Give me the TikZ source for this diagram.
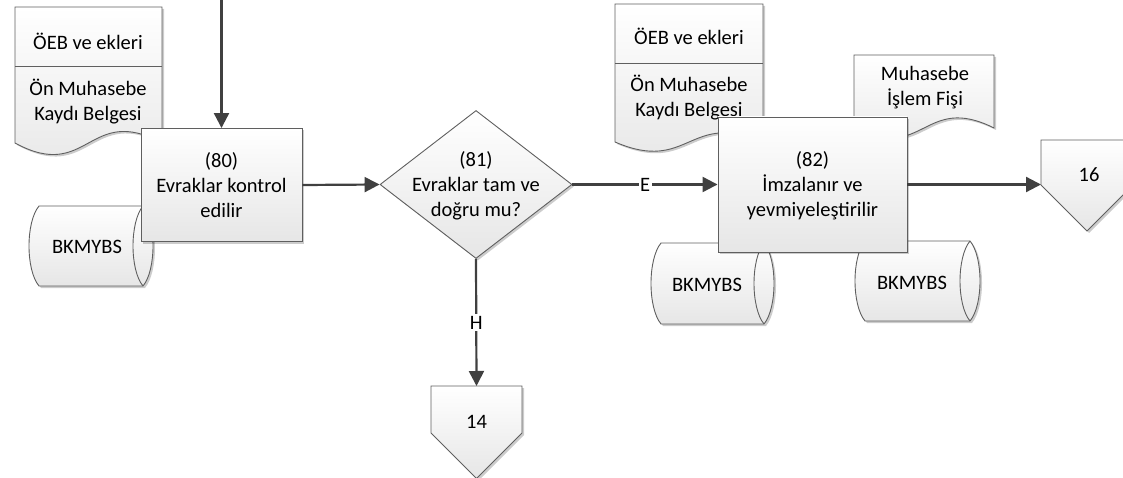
\documentclass[tikz,border=0pt]{standalone}
\usepackage{fontspec}
\setmainfont{Carlito}
\usetikzlibrary{arrows.meta,shapes.geometric,shadows}
\definecolor{edgec}{HTML}{5F5F5F}
\definecolor{arrc}{HTML}{404040}
\definecolor{fillbot}{HTML}{E6E6E6}
\tikzset{
  shp/.style={draw=edgec, line width=0.9pt, top color=white, bottom color=fillbot,
    drop shadow={shadow xshift=2pt, shadow yshift=-2pt, fill=black, opacity=0.2}},
  txt/.style={align=center, font=\fontsize{20.5}{25}\selectfont, inner sep=0pt},
  flow/.style={draw=arrc, line width=2.2pt, -{Triangle[length=15pt,width=15pt]}},
  lbl/.style={fill=white, inner sep=1.5pt, font=\fontsize{20.5}{25}\selectfont},
  procbox/.style={shp, rectangle, inner sep=0pt},
  decis/.style={shp, diamond, inner sep=0pt},
}
\newcommand\docpath[5]{(#1,#2) -- (#3,#2) -- (#3,#4) .. controls ({(#1+#3)/2},{#4-#5}) and ({(#1+#3)/2},{#4+#5}) .. (#1,#4) -- cycle}
% stored data: x0 y0 x1 y1 rx
\newcommand\cylpath[5]{({#1+#5},#2) -- ({#3-#5},#2) .. controls ({#3+#5/3},{#2+0.2*(#4-#2)}) and ({#3+#5/3},{#4-0.2*(#4-#2)}) .. ({#3-#5},#4) -- ({#1+#5},#4) .. controls ({#1-#5/3},{#4-0.2*(#4-#2)}) and ({#1-#5/3},{#2+0.2*(#4-#2)}) .. ({#1+#5},#2) -- cycle}
\newcommand\cylinner[5]{({#3-#5},#2) .. controls ({#3-2.333*#5},{#2+0.2*(#4-#2)}) and ({#3-2.333*#5},{#4-0.2*(#4-#2)}) .. ({#3-#5},#4)}
\newcommand\offpath[4]{(#1,#2) -- (#3,#2) -- (#3,{#2+#4}) -- ({(#1+#3)/2},{#2+#4+(#3-#1)/2}) -- (#1,{#2+#4}) -- cycle}
\begin{document}
\begin{tikzpicture}[x=1pt,y=-1pt]
\useasboundingbox (0,0) rectangle (1123,478);
% documents
\path[shp] \docpath{15}{7}{162}{143}{40};
\draw[edgec, line width=0.9pt] (15,66) -- (162,66);
\node[txt] (d1a) at (88,41) {ÖEB ve ekleri};
\node[txt] (d1b) at (88,102) {Ön Muhasebe\\Kaydı Belgesi};
\path[shp] \docpath{615}{4}{763}{142}{32};
\draw[edgec, line width=0.9pt] (615,63) -- (763,63);
\node[txt] (d2a) at (689,36) {ÖEB ve ekleri};
\node[txt] (d2b) at (689,98) {Ön Muhasebe\\Kaydı Belgesi};
\path[shp] \docpath{854}{55}{994}{128}{35};
\node[txt] (d3) at (925,88) {Muhasebe\\İşlem Fişi};
% storage
\path[shp] \cylpath{29}{206}{153}{286}{10};
\draw[edgec, line width=0.9pt] \cylinner{29}{206}{153}{286}{10};
\node[txt] (c1) at (87,247) {BKMYBS};
\path[shp] \cylpath{651}{243}{774}{324}{10};
\draw[edgec, line width=0.9pt] \cylinner{651}{243}{774}{324}{10};
\node[txt] (c2) at (707,285) {BKMYBS};
\path[shp] \cylpath{855}{241}{980}{321}{10};
\draw[edgec, line width=0.9pt] \cylinner{855}{241}{980}{321}{10};
\node[txt] (c3) at (912,283) {BKMYBS};
% process boxes
\node[procbox, minimum width=161pt, minimum height=113pt] (b80) at (221.5,185) {};
\node[txt] (t80) at (b80.center) {(80)\\Evraklar kontrol\\edilir};
\node[decis, minimum width=192pt, minimum height=148pt] (d81) at (476,184.5) {};
\node[txt] (t81) at (476,186) {(81)\\Evraklar tam ve\\doğru mu?};
\node[procbox, minimum width=189pt, minimum height=135pt] (b82) at (812.5,184.5) {};
\node[txt] (t82) at (812.5,186) {(82)\\İmzalanır ve\\yevmiyeleştirilir};
% off-page connectors
\path[shp] \offpath{431}{386}{522}{47};
\node[txt] (o14) at (476.5,422) {14};
\coordinate (o14in) at (476.5,386);
\path[shp] \offpath{1041}{140}{1133}{45};
\node[txt] (o16) at (1089,175) {16};
\coordinate (o16in) at (1041,184.5);
% connectors
\coordinate (topin) at (221.5,-5);
\draw[flow] (topin) -- (b80.north);
\draw[flow] (b80.east) -- (d81.west);
\draw[flow] (d81.east) -- node[lbl] {E} (b82.west);
\draw[flow] (d81.south) -- node[lbl] {H} (o14in);
\draw[flow] (b82.east) -- (o16in);
\end{tikzpicture}
\end{document}
